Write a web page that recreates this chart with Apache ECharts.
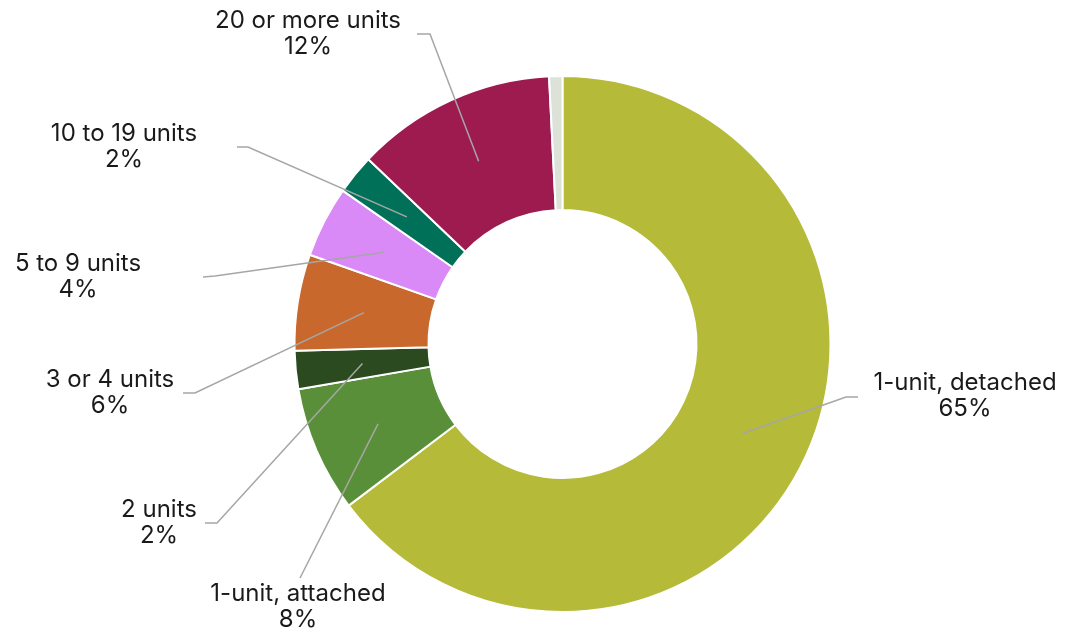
<!DOCTYPE html>
<html>
<head>
<meta charset="utf-8">
<script src="https://cdn.jsdelivr.net/npm/echarts@6/dist/echarts.min.js"></script>
<style>
html,body{margin:0;padding:0;background:#ffffff;}
#chart{width:1066px;height:633px;}
</style>
</head>
<body>
<div id="chart"></div>
<script>
// ---- data ----
const categories = ['1-unit, detached', '1-unit, attached', '2 units', '3 or 4 units', '5 to 9 units', '10 to 19 units', '20 or more units', 'Other'];
const values = [64.7, 7.6, 2.3, 5.8, 4.3, 2.4, 12.1, 0.8];
const showLabel = [true, true, true, true, true, true, true, false];

// ---- styles / layout ----
const colors = ['#B5BA39', '#5A8F3A', '#2B4A20', '#C8682C', '#DA8AF6', '#007058', '#9E1B50', '#DCE2D8'];
const labelSpots = [
  { x: 965, y: 396, bend: [846, 397], end: [858, 397] },
  { x: 298, y: 607, bend: null, end: [300, 578] },
  { x: 159, y: 523, bend: [217, 523], end: [205, 523] },
  { x: 110, y: 393, bend: [195, 393], end: [183, 393] },
  { x: 78, y: 277, bend: [215, 276], end: [203, 277] },
  { x: 124, y: 147, bend: [248, 147], end: [237, 147] },
  { x: 308, y: 34, bend: [430, 34], end: [417, 34] },
  null
];

const total = values.reduce((a, b) => a + b, 0);
const center = [562.5, 344];

const ringData = categories.map((c, i) => ({ name: c, value: values[i], itemStyle: { color: colors[i] } }));
const labelData = categories.map((c, i) => ({
  name: c, value: values[i],
  label: { show: showLabel[i] },
  labelLine: { show: showLabel[i] }
}));

const chart = echarts.init(document.getElementById('chart'), null, { renderer: 'canvas' });
chart.setOption({
  animation: false,
  backgroundColor: '#ffffff',
  series: [
    {
      type: 'pie',
      center: center,
      radius: [134, 268],
      startAngle: 90,
      clockwise: true,
      silent: true,
      label: { show: false },
      labelLine: { show: false },
      itemStyle: { borderColor: '#ffffff', borderWidth: 2 },
      data: ringData
    },
    {
      type: 'pie',
      center: center,
      radius: [0, 201],
      startAngle: 90,
      clockwise: true,
      silent: true,
      z: 5,
      itemStyle: { color: 'rgba(0,0,0,0)', borderWidth: 0 },
      label: {
        show: true,
        position: 'outside',
        color: '#1a1a1a',
        fontFamily: 'Inter, "Noto Sans", sans-serif',
        fontSize: 24,
        lineHeight: 26,
        formatter: function (p) {
          return p.name + '\n' + Math.round(p.value / total * 100) + '%';
        }
      },
      labelLine: { show: true, length: 10, length2: 10, lineStyle: { color: '#A6A6A6', width: 1.5 } },
      labelLayout: function (p) {
        const s = labelSpots[p.dataIndex];
        if (!s || !p.labelLinePoints) return {};
        const pts = [p.labelLinePoints[0].slice()];
        if (s.bend) pts.push(s.bend);
        pts.push(s.end);
        return { x: s.x, y: s.y, align: 'center', verticalAlign: 'middle', labelLinePoints: pts };
      },
      data: labelData
    }
  ]
});
</script>
</body>
</html>
